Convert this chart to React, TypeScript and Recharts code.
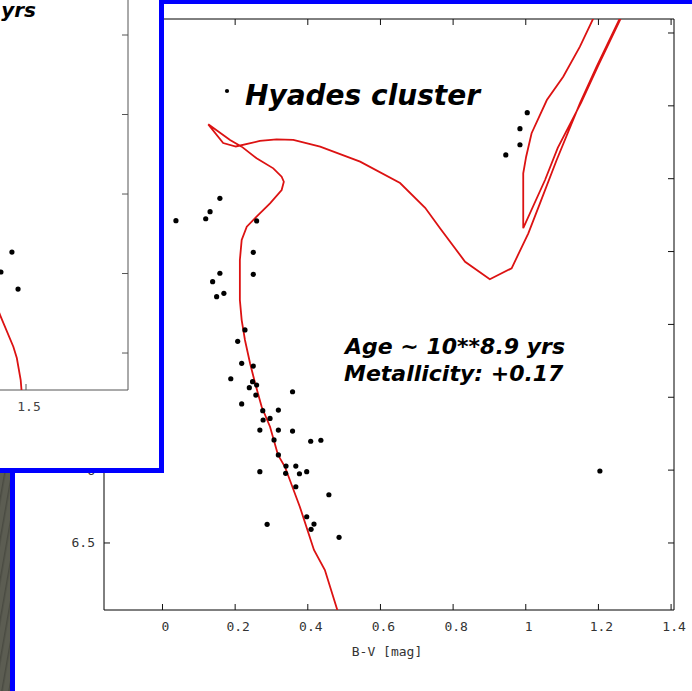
import React from 'react';
import { ScatterChart, Scatter, XAxis, YAxis } from 'recharts';

const W = 692;
const H = 691;

// Hyades members: B-V colour index [mag] and V magnitude
const hyadesBV = [
  0.158, 0.131, 0.119, 0.037, 0.259, 0.25, 0.25, 0.158, 0.138, 0.169,
  0.149, 0.227, 0.207, 0.218, 0.25, 0.188, 0.248, 0.259, 0.239, 0.257,
  0.358, 0.218, 0.276, 0.319, 0.277, 0.296, 0.268, 0.319, 0.358, 0.307,
  0.408, 0.436, 0.319, 0.34, 0.367, 0.339, 0.377, 0.397, 0.268, 0.367,
  0.458, 0.397, 0.417, 0.409, 0.288, 0.486, 1.004, 0.984, 0.984, 0.945,
  1.204,
];
const hyadesV = [
  4.135, 4.226, 4.275, 4.288, 4.29, 4.505, 4.656, 4.649, 4.707, 4.787,
  4.81, 5.038, 5.116, 5.267, 5.286, 5.373, 5.393, 5.416, 5.434, 5.485,
  5.462, 5.546, 5.592, 5.588, 5.656, 5.645, 5.725, 5.725, 5.732, 5.793,
  5.802, 5.795, 5.896, 5.972, 5.972, 6.022, 6.025, 6.011, 6.011, 6.114,
  6.169, 6.32, 6.37, 6.406, 6.372, 6.461, 3.547, 3.657, 3.767, 3.837,
  6.006,
];

// Isochrone (log age 8.9, [Fe/H] +0.17), traced in evolutionary order
const isoBV = [
  0.49, 0.447, 0.417, 0.378, 0.337, 0.318, 0.296, 0.273, 0.255, 0.241,
  0.227, 0.218, 0.213, 0.213, 0.218, 0.232, 0.259, 0.296, 0.328, 0.334,
  0.328, 0.305, 0.259, 0.218, 0.186, 0.126, 0.167, 0.202, 0.268, 0.314,
  0.36, 0.434, 0.544, 0.654, 0.723, 0.764, 0.833, 0.901, 0.961, 1.007,
  1.039, 1.085, 1.149, 1.195, 1.259, 1.29, 1.262, 1.199, 1.152, 1.088,
  1.053, 0.993, 0.993, 1.001, 1.016, 1.058, 1.103, 1.149, 1.186, 1.215,
];
const isoV = [
  7.03, 6.686, 6.548, 6.251, 5.977, 5.896, 5.702, 5.565, 5.404, 5.267,
  5.107, 4.97, 4.833, 4.558, 4.421, 4.329, 4.261, 4.169, 4.078, 4.021,
  3.986, 3.929, 3.86, 3.78, 3.734, 3.627, 3.755, 3.779, 3.741, 3.73,
  3.734, 3.78, 3.883, 4.03, 4.2, 4.34, 4.57, 4.69, 4.615, 4.375,
  4.169, 3.872, 3.483, 3.231, 2.899, 2.72, 2.897, 3.226, 3.48, 3.789,
  4.009, 4.34, 3.963, 3.849, 3.688, 3.46, 3.3, 3.094, 2.899, 2.74,
];

const xTicks = [0, 0.2, 0.4, 0.6, 0.8, 1, 1.2, 1.4];
const yTicks = [3, 3.5, 4, 4.5, 5, 5.5, 6, 6.5];
const xDomain = [-0.161, 1.408];
const yDomain = [2.904, 6.96];

// Neighbouring window: an older cluster plot
const olderBV = [1.431, 1.377, 1.461];
const olderV = [5.73, 5.981, 6.195];
const olderIsoBV = [1.324, 1.373, 1.438, 1.455, 1.474, 1.48];
const olderIsoV = [6.208, 6.522, 6.921, 7.063, 7.34, 7.528];
const olderXTicks = [1.5];
const olderYTicks = [3, 4, 5, 6, 7];

const zip = (xs: number[], ys: number[]) => xs.map((x, i) => ({ x, y: ys[i] }));
const stars = zip(hyadesBV, hyadesV);
const track = zip(isoBV, isoV);
const olderStars = zip(olderBV, olderV);
const olderTrack = zip(olderIsoBV, olderIsoV);

const BLUE = '#0000ff';
const MONO = '"DejaVu Sans Mono", monospace';
const SANS = '"DejaVu Sans", sans-serif';

const StarDot = (p: any) => <circle cx={p.cx} cy={p.cy} r={2.6} fill="#000" />;
const NoShape = () => <g />;

// tick marks point into the plot, gnuplot style
const makeBottomTick = (color: string, labelColor: string) => (p: any) => (
  <g>
    <line x1={p.x} y1={p.y} x2={p.x} y2={p.y - 6} stroke={color} />
    <text x={p.x + 3} y={p.y + 21} textAnchor="middle" fontFamily={MONO} fontSize={13} fill={labelColor}>
      {String(p.payload.value)}
    </text>
  </g>
);
const LeftTick = (p: any) => (
  <g>
    <line x1={p.x} y1={p.y} x2={p.x + 6} y2={p.y} stroke="#111" />
    <text x={p.x - 9} y={p.y + 4.5} textAnchor="end" fontFamily={MONO} fontSize={13} fill="#333">
      {String(p.payload.value)}
    </text>
  </g>
);
const TopTick = (p: any) => <line x1={p.x} y1={p.y} x2={p.x} y2={p.y + 6} stroke="#111" />;
const makeRightTick = (color: string) => (p: any) => (
  <line x1={p.x} y1={p.y} x2={p.x - 6} y2={p.y} stroke={color} />
);

function MainChart() {
  return (
    <ScatterChart width={W} height={H} margin={{ top: 18, right: 17, bottom: 80, left: 103 }}>
      <XAxis
        type="number"
        dataKey="x"
        domain={xDomain}
        ticks={xTicks}
        interval={0}
        allowDataOverflow
        height={1}
        tickSize={0}
        tickMargin={0}
        tickLine={false}
        axisLine={{ stroke: '#000' }}
        tick={makeBottomTick('#111', '#333')}
      />
      <XAxis
        xAxisId="top"
        orientation="top"
        type="number"
        dataKey="x"
        domain={xDomain}
        ticks={xTicks}
        interval={0}
        allowDataOverflow
        height={1}
        tickSize={0}
        tickMargin={0}
        tickLine={false}
        axisLine={{ stroke: '#000' }}
        tick={TopTick}
      />
      <YAxis
        type="number"
        dataKey="y"
        domain={yDomain}
        ticks={yTicks}
        interval={0}
        reversed
        allowDataOverflow
        width={1}
        tickSize={0}
        tickMargin={0}
        tickLine={false}
        axisLine={{ stroke: '#000' }}
        tick={LeftTick}
      />
      <YAxis
        yAxisId="right"
        orientation="right"
        type="number"
        dataKey="y"
        domain={yDomain}
        ticks={yTicks}
        interval={0}
        reversed
        allowDataOverflow
        width={1}
        tickSize={0}
        tickMargin={0}
        tickLine={false}
        axisLine={{ stroke: '#000' }}
        tick={makeRightTick('#111')}
      />
      <Scatter
        data={track}
        line={{ stroke: '#dc1212', strokeWidth: 1.8 }}
        lineType="joint"
        shape={NoShape}
        isAnimationActive={false}
      />
      <Scatter data={stars} shape={StarDot} isAnimationActive={false} />
    </ScatterChart>
  );
}

function OlderChart() {
  return (
    <ScatterChart width={540} height={485} margin={{ top: 10.5, right: 19, bottom: 39, left: 10 }}>
      <XAxis
        type="number"
        dataKey="x"
        domain={[-0.5, 2.0]}
        ticks={olderXTicks}
        interval={0}
        allowDataOverflow
        height={1}
        tickSize={0}
        tickMargin={0}
        tickLine={false}
        axisLine={{ stroke: '#555' }}
        tick={makeBottomTick('#555', '#444')}
      />
      <YAxis
        orientation="right"
        type="number"
        dataKey="y"
        domain={[2, 7.465]}
        ticks={olderYTicks}
        interval={0}
        reversed
        allowDataOverflow
        width={1}
        tickSize={0}
        tickMargin={0}
        tickLine={false}
        axisLine={{ stroke: '#555' }}
        tick={makeRightTick('#555')}
      />
      <Scatter
        data={olderTrack}
        line={{ stroke: '#dc1212', strokeWidth: 1.8 }}
        lineType="joint"
        shape={NoShape}
        isAnimationActive={false}
      />
      <Scatter data={olderStars} shape={StarDot} isAnimationActive={false} />
    </ScatterChart>
  );
}

export default function App() {
  return (
    <div style={{ position: 'absolute', left: 0, top: 0, width: W, height: H, overflow: 'hidden', background: '#fff' }}>
      {/* desktop background strip */}
      <div
        style={{
          position: 'absolute',
          left: 0,
          top: 470,
          width: 10,
          height: H - 470,
          background: 'repeating-linear-gradient(100deg, #5c5d52 0px, #5c5d52 4px, #4a4b42 5px, #5c5d52 7px)',
        }}
      />
      {/* main window frame */}
      <div
        style={{
          position: 'absolute',
          left: 10,
          top: 0,
          width: W - 10,
          height: H,
          boxSizing: 'border-box',
          borderLeft: `5px solid ${BLUE}`,
          borderTop: `4px solid ${BLUE}`,
          background: '#fff',
        }}
      />
      <div style={{ position: 'absolute', left: 0, top: 0 }}>
        <MainChart />
      </div>
      <svg width={W} height={H} style={{ position: 'absolute', left: 0, top: 0, pointerEvents: 'none' }}>
        <circle cx={227} cy={91} r={2.1} fill="#000" />
        <text x={245} y={105} fontFamily={SANS} fontWeight="bold" fontStyle="italic" fontSize={28} fill="#000">
          Hyades cluster
        </text>
        <text x={345} y={354} fontFamily={SANS} fontWeight="bold" fontStyle="italic" fontSize={22} fill="#000">
          Age ~ 10**8.9 yrs
        </text>
        <text x={344} y={381} fontFamily={SANS} fontWeight="bold" fontStyle="italic" fontSize={22} fill="#000">
          Metallicity: +0.17
        </text>
        <text x={387} y={656} textAnchor="middle" fontFamily={MONO} fontSize={13} fill="#333">
          B-V [mag]
        </text>
      </svg>
      {/* overlapping window */}
      <div
        style={{
          position: 'absolute',
          left: 0,
          top: 0,
          width: 164,
          height: 473,
          boxSizing: 'border-box',
          borderRight: `5px solid ${BLUE}`,
          borderBottom: `5px solid ${BLUE}`,
          background: '#fff',
          overflow: 'hidden',
        }}
      >
        <div style={{ position: 'absolute', left: -392, top: -55 }}>
          <OlderChart />
        </div>
        <svg width={159} height={468} style={{ position: 'absolute', left: 0, top: 0 }}>
          <text x={36} y={17} textAnchor="end" fontFamily={SANS} fontWeight="bold" fontStyle="italic" fontSize={20} fill="#000">
            Age ~ 10**8.9 yrs
          </text>
        </svg>
      </div>
    </div>
  );
}
